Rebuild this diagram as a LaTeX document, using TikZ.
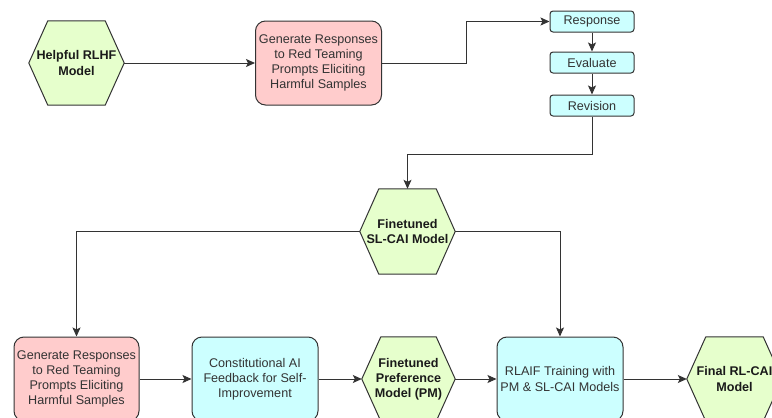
\documentclass[tikz,border=0pt]{standalone}
\usepackage{fontspec}
\setmainfont{Liberation Sans}
\usetikzlibrary{arrows.meta,backgrounds,calc}
\definecolor{hexfill}{HTML}{E6FFCC}
\definecolor{pinkfill}{HTML}{FFCCCC}
\definecolor{cyanfill}{HTML}{CCFFFF}
\definecolor{bd}{HTML}{333333}
\definecolor{txt}{HTML}{333333}
\definecolor{hextxt}{HTML}{1A1A1A}
\newcommand{\hexshape}[1]{%
  \begin{scope}[on background layer]
  \filldraw[fill=hexfill,draw=bd,line width=1pt,line join=round]
    (#1.west) -- ([xshift=19pt]#1.north west) -- ([xshift=-19pt]#1.north east)
    -- (#1.east) -- ([xshift=-19pt]#1.south east) -- ([xshift=19pt]#1.south west) -- cycle;
  \end{scope}}
\tikzset{
  basefont/.style={font=\fontsize{12.6}{15.1}\selectfont},
  hexa/.style={rectangle, minimum width=95pt, minimum height=84pt, inner sep=0pt,
    align=center, text=hextxt, font=\fontsize{12.6}{15.1}\selectfont\bfseries},
  bigbox/.style={rectangle, rounded corners=10pt, draw=bd, line width=1pt,
    minimum width=126pt, minimum height=84pt, inner sep=0pt, align=center,
    text=txt, basefont},
  smallbox/.style={rectangle, rounded corners=3pt, draw=bd, line width=1pt,
    fill=cyanfill, minimum width=84pt, minimum height=21pt, inner sep=0pt,
    align=center, text=txt, basefont},
  conn/.style={draw=bd, line width=1pt, -{Stealth[length=9pt,width=8pt,inset=2pt]}}
}
\begin{document}
\begin{tikzpicture}[x=1pt,y=-1pt]
\useasboundingbox (0,0) rectangle (772,418);
% top row
\node[hexa] (h1) at (76.5,63) {Helpful RLHF\\Model};
\hexshape{h1}
\node[bigbox, fill=pinkfill] (p1) at (318.5,63) {Generate Responses\\to Red Teaming\\Prompts Eliciting\\Harmful Samples};
\node[smallbox] (resp) at (592,21.5) {Response};
\node[smallbox] (eval) at (592,62.5) {Evaluate};
\node[smallbox] (rev) at (592,105.5) {Revision};
% middle
\node[hexa, minimum height=85pt] (h2) at (407.5,231.5) {Finetuned\\SL-CAI Model};
\hexshape{h2}
% bottom row
\node[bigbox, fill=pinkfill, minimum width=125pt] (p2) at (76.5,379) {Generate Responses\\to Red Teaming\\Prompts Eliciting\\Harmful Samples};
\node[bigbox, fill=cyanfill] (c2) at (255,379) {Constitutional AI\\Feedback for Self-\\Improvement};
\node[hexa, minimum width=93pt] (h3) at (408.5,379) {Finetuned\\Preference\\Model (PM)};
\hexshape{h3}
\node[bigbox, fill=cyanfill] (r) at (560,379) {RLAIF Training with\\PM \& SL-CAI Models};
\node[hexa] (h4) at (734.5,379) {Final RL-CAI\\Model};
\hexshape{h4}
% connectors
\draw[conn] (h1.east) -- (p1.west);
\draw[conn] (p1.east) -- ++(84,0) |- (resp.west);
\draw[conn] (resp.south) -- (eval.north);
\draw[conn] (eval.south) -- (rev.north);
\draw[conn] (rev.south) -- ++(0,37.5) -| (h2.north);
\draw[conn] (h2.west) -| (p2.north);
\draw[conn] (h2.east) -| (r.north);
\draw[conn] (p2.east) -- (c2.west);
\draw[conn] (c2.east) -- (h3.west);
\draw[conn] (h3.east) -- (r.west);
\draw[conn] (r.east) -- (h4.west);
\end{tikzpicture}
\end{document}
